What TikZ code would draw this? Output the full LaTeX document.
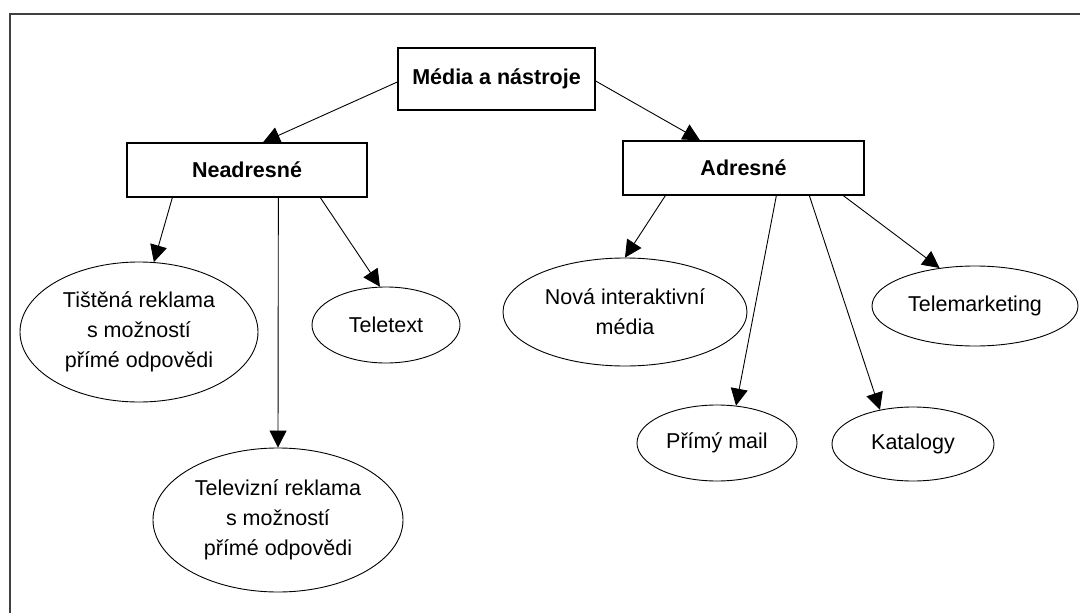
\documentclass[tikz,border=0pt]{standalone}
\usepackage{fontspec}
\setmainfont{Liberation Sans}
\usetikzlibrary{shapes.geometric,arrows.meta}
\tikzset{
  boxnode/.style={draw=black, line width=1.3pt, rectangle, inner sep=0pt, fill=white,
    font=\fontsize{21.5}{26}\selectfont\bfseries, text=black},
  leaf/.style={draw=black, line width=0.9pt, ellipse, inner sep=0pt,
    font=\fontsize{21.5}{30}\selectfont, align=center, text=black},
  conn/.style={draw=black, line width=0.9pt, -{Triangle[length=17pt,width=17pt]}},
  frameline/.style={draw=black!75, line width=2pt}
}
\begin{document}
\begin{tikzpicture}[x=1pt,y=-1pt]
\useasboundingbox[fill=white] (0,0) rectangle (1080,613);
\draw[frameline] (10,613) -- (10,14) -- (1080,14);

% boxes
\node[boxnode, minimum width=197pt, minimum height=62pt] (media) at (496.5,79) {Média a nástroje};
\node[boxnode, minimum width=240pt, minimum height=54pt] (nea) at (247,170) {Neadresné};
\node[boxnode, minimum width=241pt, minimum height=54pt] (adr) at (743.5,168) {Adresné};

% leaves of Neadresné
\node[leaf, minimum width=238pt, minimum height=140pt] (tist) at (139,332) {Tištěná reklama\\s možností\\přímé odpovědi};
\node[leaf, minimum width=148pt, minimum height=76pt] (ttx) at (386,325) {Teletext};
\node[leaf, minimum width=250pt, minimum height=144pt] (tv) at (278,520) {Televizní reklama\\s možností\\přímé odpovědi};

% leaves of Adresné
\node[leaf, minimum width=244pt, minimum height=108pt] (nova) at (625,312) {Nová interaktivní\\média};
\node[leaf, minimum width=160pt, minimum height=76pt] (mail) at (717,443) {Přímý mail};
\node[leaf, minimum width=162pt, minimum height=74pt] (kat) at (913,444) {Katalogy};
\node[leaf, minimum width=206pt, minimum height=80pt] (tm) at (975,306) {Telemarketing};

% connectors
\draw[conn] ([yshift=-3pt]media.west) -- ([xshift=16pt]nea.north);
\draw[conn] ([yshift=-2pt]media.east) -- ([xshift=-43.5pt]adr.north);

\draw[conn] ([xshift=46pt]nea.south west) -- (tist.78);
\draw[conn] ([xshift=152pt]nea.south west) -- (tv.north);
\draw[conn] ([xshift=194pt]nea.south west) -- (ttx.99);

\draw[conn] ([xshift=43pt]adr.south west) -- (nova.north);
\draw[conn] ([xshift=154pt]adr.south west) -- (mail.63);
\draw[conn] ([xshift=187pt]adr.south west) -- (kat.134);
\draw[conn] ([xshift=221pt]adr.south west) -- (tm.133);
\end{tikzpicture}
\end{document}
